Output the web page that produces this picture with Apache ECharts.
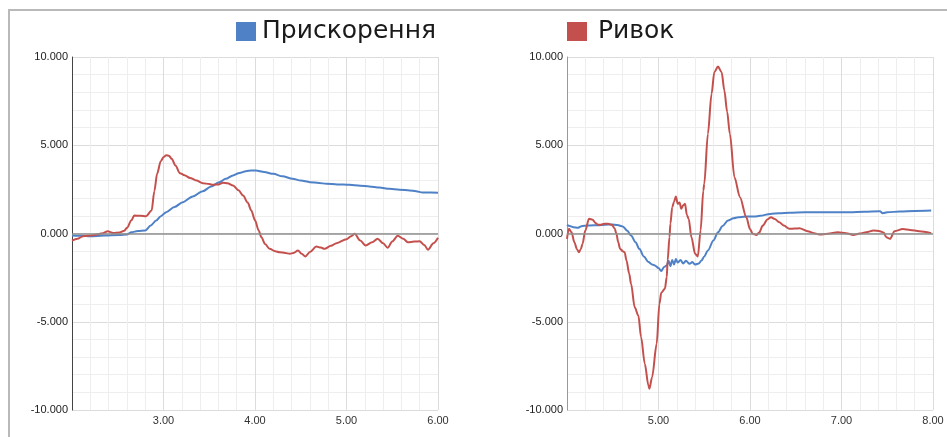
<!DOCTYPE html>
<html>
<head>
<meta charset="utf-8">
<script src="https://cdn.jsdelivr.net/npm/echarts@6/dist/echarts.min.js"></script>
<style>
html,body{margin:0;padding:0;background:#fff;}
#c{width:947px;height:437px;}
</style>
</head>
<body>
<div id="c"></div>
<script>
// ---- Data ----
var legendLeft = ['Прискорення'];
var legendRight = ['Ривок'];

// Left chart: acceleration (blue)
var leftAccX = [2.00,2.10,2.20,2.35,2.52,2.60,2.65,2.72,2.80,2.86,2.92,2.97,3.03,3.12,3.21,3.32,3.43,3.52,3.61,3.68,3.76,3.83,3.90,3.96,4.01,4.10,4.20,4.30,4.41,4.50,4.60,4.70,4.78,4.90,5.03,5.15,5.25,5.36,5.47,5.58,5.69,5.76,5.83,5.92,6.00];
var leftAccY = [-0.11,-0.13,-0.15,-0.12,-0.09,-0.05,0.07,0.14,0.17,0.45,0.74,0.98,1.21,1.50,1.77,2.10,2.40,2.66,2.91,3.10,3.29,3.43,3.53,3.57,3.57,3.48,3.38,3.24,3.10,3.00,2.91,2.86,2.82,2.78,2.76,2.71,2.66,2.60,2.53,2.48,2.44,2.40,2.32,2.32,2.31];

// Left chart: jerk (red)
var leftJerkX = [2.00,2.06,2.12,2.23,2.34,2.39,2.45,2.52,2.57,2.60,2.65,2.68,2.75,2.81,2.87,2.90,2.93,2.97,3.00,3.03,3.06,3.09,3.13,3.18,3.23,3.29,3.36,3.43,3.50,3.54,3.60,3.65,3.70,3.76,3.82,3.87,3.92,3.96,4.00,4.04,4.07,4.11,4.16,4.22,4.27,4.33,4.38,4.42,4.47,4.51,4.55,4.60,4.67,4.72,4.76,4.83,4.89,5.00,5.05,5.09,5.15,5.21,5.28,5.34,5.40,5.45,5.50,5.56,5.62,5.67,5.74,5.80,5.85,5.89,5.95,6.00];
var leftJerkY = [-0.40,-0.30,-0.15,-0.10,0.02,0.13,0.03,0.05,0.15,0.32,0.75,1.02,1.00,0.98,1.30,2.40,3.38,4.10,4.32,4.44,4.40,4.23,3.85,3.42,3.30,3.15,3.00,2.85,2.80,2.76,2.78,2.87,2.85,2.72,2.45,2.15,1.75,1.30,0.75,0.17,-0.21,-0.60,-0.87,-1.00,-1.06,-1.10,-1.15,-1.10,-0.96,-1.15,-1.30,-1.05,-0.74,-0.80,-0.87,-0.70,-0.55,-0.32,-0.15,-0.02,-0.40,-0.68,-0.50,-0.30,-0.55,-0.81,-0.45,-0.13,-0.30,-0.49,-0.46,-0.44,-0.65,-0.92,-0.55,-0.24];

// Right chart: acceleration (blue)
var rightAccX = [4.00,4.03,4.07,4.12,4.15,4.19,4.25,4.34,4.42,4.49,4.55,4.61,4.66,4.70,4.75,4.79,4.84,4.89,4.93,4.96,5.00,5.03,5.06,5.09,5.11,5.13,5.15,5.17,5.19,5.21,5.24,5.27,5.30,5.34,5.37,5.40,5.44,5.47,5.50,5.54,5.60,5.65,5.70,5.76,5.82,5.87,5.95,6.05,6.11,6.22,6.32,6.43,6.60,6.73,6.90,7.09,7.25,7.42,7.45,7.50,7.64,7.80,7.98];
var rightAccY = [0.49,0.42,0.36,0.32,0.40,0.44,0.46,0.47,0.50,0.51,0.48,0.40,0.15,-0.11,-0.50,-0.87,-1.30,-1.62,-1.75,-1.81,-1.95,-2.13,-1.90,-1.81,-1.55,-1.85,-1.50,-1.75,-1.45,-1.65,-1.50,-1.70,-1.55,-1.72,-1.62,-1.76,-1.70,-1.53,-1.30,-0.96,-0.40,0.07,0.42,0.74,0.86,0.92,0.96,0.96,1.00,1.11,1.15,1.17,1.20,1.21,1.21,1.21,1.23,1.26,1.15,1.20,1.25,1.28,1.30];

// Right chart: jerk (red)
var rightJerkX = [4.00,4.02,4.05,4.08,4.11,4.13,4.15,4.17,4.20,4.24,4.28,4.31,4.34,4.37,4.41,4.45,4.49,4.52,4.54,4.56,4.58,4.61,4.63,4.65,4.68,4.70,4.74,4.78,4.81,4.85,4.89,4.90,4.93,4.98,5.01,5.03,5.07,5.09,5.10,5.12,5.13,5.15,5.17,5.19,5.21,5.23,5.25,5.27,5.29,5.31,5.33,5.36,5.40,5.43,5.46,5.49,5.50,5.54,5.58,5.61,5.65,5.69,5.72,5.75,5.78,5.83,5.89,5.96,6.00,6.03,6.07,6.10,6.14,6.19,6.23,6.27,6.32,6.37,6.43,6.49,6.54,6.63,6.70,6.76,6.85,6.96,7.05,7.13,7.20,7.27,7.35,7.42,7.46,7.49,7.53,7.58,7.67,7.75,7.85,7.98];
var rightJerkY = [-0.30,0.27,0.07,-0.49,-0.90,-1.06,-0.90,-0.58,0.17,0.83,0.78,0.60,0.49,0.50,0.55,0.55,0.49,0.30,-0.02,-0.50,-0.87,-1.00,-1.06,-1.53,-2.28,-2.85,-4.18,-4.65,-5.88,-7.38,-8.61,-8.80,-8.14,-6.25,-3.98,-3.36,-3.13,-2.47,-1.53,-0.20,0.55,1.49,1.80,2.10,1.68,1.75,1.40,1.60,1.68,1.05,0.83,-0.21,-1.15,-1.30,0.17,2.44,2.81,5.65,7.92,9.14,9.46,9.14,8.10,6.90,5.65,3.19,2.06,0.92,0.25,-0.02,-0.08,0.05,0.45,0.80,0.92,0.82,0.64,0.45,0.27,0.28,0.30,0.13,0.02,-0.06,-0.02,0.07,0.02,-0.08,0.00,0.07,0.17,0.13,0.05,-0.21,-0.30,0.13,0.25,0.20,0.13,0.02];

var yTicks = {min: -10, max: 10, interval: 5};
var leftXRange = {min: 2, max: 6};
var rightXRange = {min: 4, max: 8};

function zip(xs, ys){ return xs.map(function(x,i){ return [x, ys[i]]; }); }

var BLUE = '#4f81c7';
var RED = '#c4504d';

var chart = echarts.init(document.getElementById('c'), null, {renderer: 'canvas'});

function xAxisCfg(idx, range){
  return {
    type: 'value', gridIndex: idx, min: range.min, max: range.max, interval: 1,
    axisLine: {show: false}, axisTick: {show: false},
    axisLabel: {show: true, showMinLabel: false, fontSize: 11, color: '#333', margin: 5,
      fontFamily: 'Liberation Sans, Arial, sans-serif',
      formatter: function(v){ return v.toFixed(2); }},
    splitLine: {show: true, lineStyle: {color: '#dcdcdc', width: 1}},
    minorTick: {show: false, splitNumber: 5},
    minorSplitLine: {show: true, lineStyle: {color: '#eeeeee', width: 1}}
  };
}
function yAxisCfg(idx, axisColor){
  return {
    type: 'value', gridIndex: idx, min: yTicks.min, max: yTicks.max, interval: yTicks.interval,
    axisLine: {show: true, lineStyle: {color: axisColor, width: 1}}, axisTick: {show: false},
    axisLabel: {fontSize: 11, color: '#222', margin: 4, fontFamily: 'Liberation Sans, Arial, sans-serif',
      formatter: function(v){ return v.toFixed(3); }},
    splitLine: {show: true, lineStyle: {color: '#dcdcdc', width: 1}},
    minorTick: {show: false, splitNumber: 5},
    minorSplitLine: {show: true, lineStyle: {color: '#eeeeee', width: 1}}
  };
}
var zeroLine = {
  silent: true, symbol: ['none','none'], label: {show: false},
  lineStyle: {color: '#8f8f8f', width: 1.5, type: 'solid'},
  data: [{yAxis: 0}], animation: false
};
function lineSeries(name, color, xi, yi, data, withZero){
  var s = {
    name: name, type: 'line', xAxisIndex: xi, yAxisIndex: yi, data: data,
    showSymbol: false, symbol: 'none', smooth: 0.3, smoothMonotone: 'x',
    lineStyle: {color: color, width: 2}, itemStyle: {color: color},
    animation: false, z: 3
  };
  if (withZero) s.markLine = zeroLine;
  return s;
}

var option = {
  backgroundColor: '#ffffff',
  animation: false,
  graphic: [{
    type: 'rect', shape: {x: 9, y: 10, width: 980, height: 460},
    style: {fill: 'none', stroke: '#b9b9b9', lineWidth: 2}, silent: true, z: -1
  }],
  legend: [
    {data: legendLeft, left: 231, top: 14, icon: 'rect', itemWidth: 20, itemHeight: 19, itemGap: 10,
     selectedMode: false,
     textStyle: {fontSize: 25, color: '#1a1a1a', fontFamily: 'DejaVu Sans', padding: [0,0,0,1]}},
    {data: legendRight, left: 562, top: 14, icon: 'rect', itemWidth: 20, itemHeight: 19, itemGap: 10,
     selectedMode: false,
     textStyle: {fontSize: 25, color: '#1a1a1a', fontFamily: 'DejaVu Sans', padding: [0,0,0,6]}}
  ],
  grid: [
    {left: 72, right: 509, top: 57, bottom: 27, containLabel: false},
    {left: 567, right: 14, top: 57, bottom: 27, containLabel: false}
  ],
  xAxis: [xAxisCfg(0, leftXRange), xAxisCfg(1, rightXRange)],
  yAxis: [yAxisCfg(0, '#444444'), yAxisCfg(1, '#999999')],
  series: [
    lineSeries('Прискорення', BLUE, 0, 0, zip(leftAccX, leftAccY), true),
    lineSeries('Ривок', RED, 0, 0, zip(leftJerkX, leftJerkY), false),
    lineSeries('Прискорення', BLUE, 1, 1, zip(rightAccX, rightAccY), true),
    lineSeries('Ривок', RED, 1, 1, zip(rightJerkX, rightJerkY), false)
  ]
};
chart.setOption(option);
</script>
</body>
</html>
